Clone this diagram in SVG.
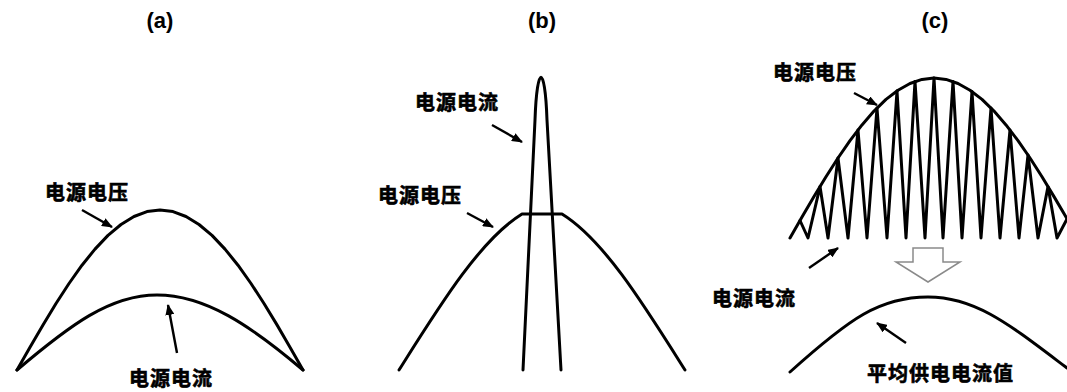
<svg xmlns="http://www.w3.org/2000/svg" width="1067" height="392" viewBox="0 0 1067 392">
  <style>
    .curve { fill: none; stroke: #000; stroke-width: 3; stroke-linejoin: round; stroke-linecap: round; }
    .zig { fill: none; stroke: #000; stroke-width: 3; stroke-linejoin: round; stroke-linecap: round; }
    .arrow { fill: none; stroke: #000; stroke-width: 2.4; marker-end: url(#ah); }
    .title { font-family: "Liberation Sans", Arial, sans-serif; font-weight: bold; font-size: 22px; text-anchor: middle; fill: #000; }
    .lbl { font-family: "Noto Sans CJK SC", "Noto Sans CJK JP", sans-serif; font-weight: bold; font-size: 20px; fill: #000; stroke: #000; stroke-width: 0.6; letter-spacing: 1px; }
    .hollow { fill: #fff; stroke: #8a8a8a; stroke-width: 1.5; stroke-linejoin: miter; }
  </style>
  <defs>
    <marker id="ah" markerUnits="userSpaceOnUse" markerWidth="11" markerHeight="9" refX="10" refY="4.5" orient="auto">
      <path d="M0,0 L11,4.5 L0,9 Z" fill="#000"/>
    </marker>
  </defs>
  <rect width="1067" height="392" fill="#fff"/>

  <!-- Panel (a) -->
  <g id="panel-a">
    <text class="title" x="160" y="28">(a)</text>
    <g id="a-voltage">
      <polyline class="curve" points="17,370 30,347.2 43,324.9 56,303.5 69,283.5 82,265.2 95,249.1 108,235.4 121,224.5 134,216.5 147,211.6 160,210 173,211.6 186,216.5 199,224.5 212,235.4 225,249.1 238,265.2 251,283.5 264,303.5 277,324.9 290,347.2 303,370"/>
      <text class="lbl" x="45" y="200">电源电压</text>
    </g>
    <g id="a-current">
      <path class="curve" d="M17,370 C70,325 110,295 157,295 C205,295 250,325 303,370"/>
      <text class="lbl" x="129" y="386">电源电流</text>
    </g>
  </g>

  <!-- Panel (b) -->
  <g id="panel-b">
    <text class="title" x="542" y="28">(b)</text>
    <g id="b-voltage">
      <path class="curve" d="M399,370 C440,305 480,240 522,214 L562,214 C604,240 644,305 685,370"/>
      <text class="lbl" x="378" y="203">电源电压</text>
    </g>
    <g id="b-current">
      <path class="curve" d="M523,370 L535,120 C537,63 545,63 547,120 L561,370"/>
      <text class="lbl" x="415" y="110">电源电流</text>
    </g>
  </g>

  <!-- Panel (c) -->
  <g id="panel-c">
    <text class="title" x="935" y="28">(c)</text>
    <g id="c-voltage">
      <polyline class="curve" points="790,238 802,217.1 814,196.6 826,176.8 838,158 850,140.6 862,124.9 874,111.1 886,99.4 898,90.2 910,83.5 922,79.4 934,78 946,79.4 958,83.5 970,90.2 982,99.4 994,111.1 1006,124.9 1018,140.6 1030,158 1042,176.8 1054,196.6 1066,217.1 1078,238"/>
      <text class="lbl" x="773" y="80">电源电压</text>
    </g>
    <g id="c-current">
      <polyline class="zig" points="800,220.5 808,238 820,186.6 828,238 838,158 848,238 858,130 867,238 877,108 887,238 897,91 906,238 915,81.4 925,238 934,78 943,238 953,81.4 962,238 972,91.5 981,238 991,108 1000,238 1010,130 1019,238 1028,155 1038,238 1048,186.6 1057,238 1067,219"/>
      <text class="lbl" x="712" y="306">电源电流</text>
    </g>
    <g id="c-transform">
      <polygon class="hollow" points="913,248 943,248 943,262 960,262 928,282 896,262 913,262"/>
    </g>
    <g id="c-average">
      <path class="curve" d="M790,372 C850,318 880,297 928,297 C976,297 1010,325 1067,368"/>
      <text class="lbl" x="867" y="381">平均供电电流值</text>
    </g>
  </g>

  <!-- Connectors (label pointers) -->
  <g id="connectors">
    <line class="arrow" x1="82" y1="210" x2="112" y2="227"/>
    <line class="arrow" x1="177" y1="353" x2="168" y2="305"/>
    <line class="arrow" x1="492" y1="125" x2="522" y2="142"/>
    <line class="arrow" x1="467" y1="213" x2="493" y2="227"/>
    <line class="arrow" x1="854" y1="93" x2="877" y2="105"/>
    <line class="arrow" x1="809" y1="268" x2="838" y2="248"/>
    <line class="arrow" x1="906" y1="343" x2="877" y2="323"/>
  </g>
</svg>
